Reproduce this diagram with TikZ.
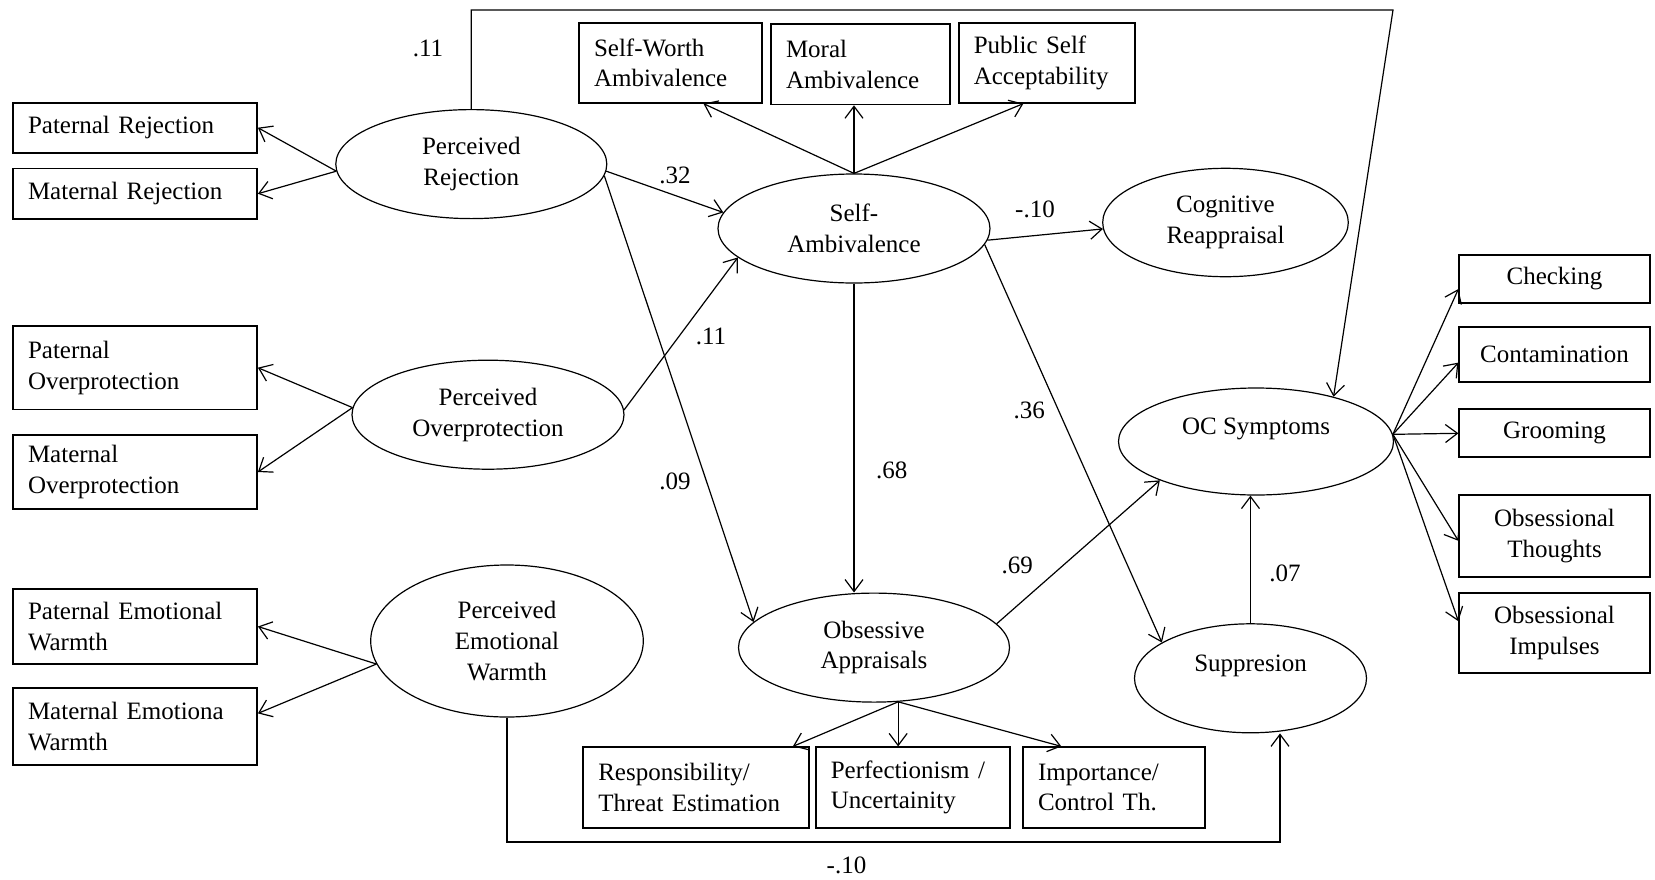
\documentclass[tikz,border=0pt]{standalone}
\usepackage{fontspec}
\setmainfont{Liberation Serif}
\usetikzlibrary{shapes.geometric,arrows.meta}

\begin{document}
\begin{tikzpicture}[x=0.5pt,y=-0.5pt,
    font=\fontsize{12.5}{15.3}\selectfont,
    obs/.style={draw,line width=0.9pt,rectangle,align=left,inner xsep=7.5pt,inner ysep=0pt},
    lat/.style={draw,line width=0.6pt,ellipse,align=center,inner sep=0pt},
    arr/.style={line width=0.6pt,-{Straight Barb[length=6pt,width=9pt]}},
    coef/.style={inner sep=0pt}]
    \useasboundingbox (0,0) rectangle (1655,879);

    % Latent variables
    \node[lat,minimum width=135.5pt,minimum height=54.5pt] (PR) at (471.3,164.1) {Perceived\\Rejection};
    \node[lat,minimum width=136pt,minimum height=54.5pt] (PO) at (488,414.7) {Perceived\\Overprotection};
    \node[lat,minimum width=136.3pt,minimum height=76pt] (PEW) at (507,641) {Perceived\\Emotional\\Warmth};
    \node[lat,minimum width=136pt,minimum height=54.5pt] (SA) at (854,228.5) {Self-\\Ambivalence};
    \node[lat,minimum width=135.5pt,minimum height=54.5pt] (OA) at (874,647.6) {Obsessive\\Appraisals};
    \node[lat,minimum width=122.8pt,minimum height=54.2pt] (CR) at (1225.5,222.5) {Cognitive\\Reappraisal};
    \node[lat,minimum width=137.5pt,minimum height=53.5pt] (OC) at (1256,441.5) {OC Symptoms\\\mbox{}};
    \node[lat,minimum width=116pt,minimum height=54.5pt] (Sup) at (1250.5,678.3) {Suppresion\\\mbox{}};

    % Parenting indicators
    \node[obs,text width=107pt,minimum height=25pt] (PatRej) at (135,127.7) {Paternal Rejection};
    \node[obs,text width=107pt,minimum height=25.3pt] (MatRej) at (135,193.7) {Maternal Rejection};
    \node[obs,text width=107pt,minimum height=41.7pt] (PatOver) at (135,367.7) {Paternal\\Overprotection};
    \node[obs,text width=107pt,minimum height=37pt] (MatOver) at (135,472) {Maternal\\Overprotection};
    \node[obs,text width=107pt,minimum height=37.5pt] (PatWarm) at (135,626.5) {Paternal Emotional\\Warmth};
    \node[obs,text width=107pt,minimum height=38.7pt] (MatWarm) at (135,726.3) {Maternal Emotiona\\Warmth};

    % Self-ambivalence indicators
    \node[obs,text width=76.3pt,minimum height=40pt] (SWA) at (670.3,62.7) {Self-Worth\\Ambivalence};
    \node[obs,text width=74.3pt,minimum height=40.2pt] (MorA) at (860.3,64.2) {Moral\\Ambivalence};
    \node[obs,text width=73.2pt,minimum height=40pt] (PubS) at (1047,62.7) {Public Self\\Acceptability};

    % Appraisal indicators
    \node[obs,text width=97.7pt,minimum height=40.2pt] (Resp) at (696,787.5) {Responsibility/\\Threat Estimation};
    \node[obs,text width=81.9pt,minimum height=40.2pt] (Perf) at (912.7,787.5) {Perfectionism~/\\Uncertainity};
    \node[obs,text width=76pt,minimum height=40.2pt] (Imp) at (1114,787.5) {Importance/\\Control Th.};

    % Symptom indicators
    \node[obs,align=center,text width=80.2pt,minimum height=23.8pt] (Chk) at (1554.5,278.9) {Checking};
    \node[obs,align=center,text width=80.2pt,minimum height=27.5pt] (Cont) at (1554.5,354.2) {Contamination};
    \node[obs,align=center,text width=80.2pt,minimum height=24pt] (Groom) at (1554.5,433.3) {Grooming};
    \node[obs,align=center,text width=80.2pt,minimum height=40.8pt] (Thou) at (1554.5,535.8) {Obsessional\\Thoughts};
    \node[obs,align=center,text width=80.2pt,minimum height=40.3pt] (Impu) at (1554.5,633) {Obsessional\\Impulses};

    % Measurement paths
    \draw[arr] (PR.183) -- (PatRej.east);
    \draw[arr] (PR.183) -- (MatRej.east);
    \draw[arr] (PO.177) -- (PatOver.east);
    \draw[arr] (PO.177) -- (MatOver.east);
    \draw[arr] (PEW.190) -- (PatWarm.east);
    \draw[arr] (PEW.190) -- (MatWarm.6);
    \draw[arr] (SA.north) -- (SWA.-51);
    \draw[arr] (SA.north) -- (SA.north |- MorA.south);
    \draw[arr] (SA.north) -- (PubS.-120);
    \draw[arr] (OA.-66) -- (Resp.23);
    \draw[arr] (OA.-66) -- (OA.-66 |- Perf.north);
    \draw[arr] (OA.-66) -- (Imp.142);
    \draw[arr] (OC.3) -- (Chk.186);
    \draw[arr] (OC.3) -- (Cont.185);
    \draw[arr] (OC.3) -- (Groom.west);
    \draw[arr] (OC.3) -- (Thou.183);
    \draw[arr] (OC.3) -- (Impu.173);

    % Structural paths
    \draw[arr] (PR.-3) -- (SA.173);
    \draw[arr] (PR.-5) -- (OA.168);
    \draw[arr] (PO.2) -- (SA.194);
    \draw[arr] (SA.south) -- (SA.south |- OA.north);
    \draw[arr] (SA.-5) -- (CR.183);
    \draw[arr] (SA.-7) -- (Sup.158);
    \draw[arr] (OA.11) -- (OC.202);
    \draw[arr] (Sup.north) -- (Sup.north |- OC.south);
    \coordinate (topR) at (1393,10);
    \draw[arr] (PR.north) |- (topR) -- (OC.30);
    \coordinate (botR) at (1280,842);
    \draw[arr] (PEW.south) |- (botR) -- (botR |- Sup.south);

    % Path coefficients
    \node[coef] (bPROC) at (428,48) {.11};
    \node[coef] (bPRSA) at (675,175) {.32};
    \node[coef] (bPOSA) at (711,336.7) {.11};
    \node[coef] (bPROA) at (675,481.5) {.09};
    \node[coef] (bSAOA) at (891.8,470) {.68};
    \node[coef] (bSACR) at (1035,209) {-.10};
    \node[coef] (bSASup) at (1029.3,410) {.36};
    \node[coef] (bOAOC) at (1017.3,565) {.69};
    \node[coef] (bSupOC) at (1285,573.3) {.07};
    \node[coef] (bPEWSup) at (846.5,865.5) {-.10};
\end{tikzpicture}
\end{document}
